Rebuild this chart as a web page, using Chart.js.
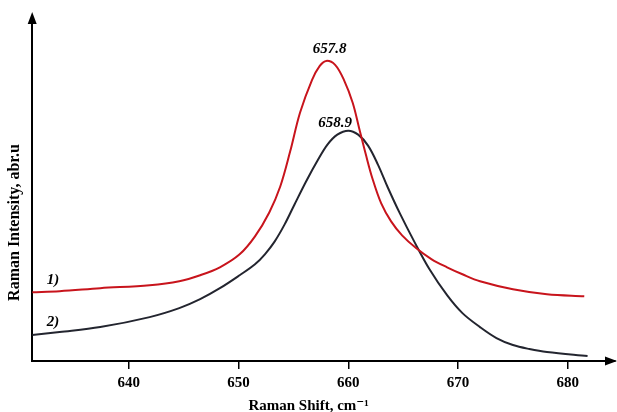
<!DOCTYPE html>
<html>
<head>
<meta charset="utf-8">
<script src="https://cdn.jsdelivr.net/npm/chart.js@4"></script>
<style>
  html, body { margin: 0; padding: 0; background: #fff; }
  #wrap { width: 617px; height: 412px; }
</style>
</head>
<body>
<div id="wrap"><canvas id="chart"></canvas></div>
<script>
// Raman shift (cm-1) and intensity (arb. units)
const shift1 = [631.2, 633.7, 637.4, 641.9, 644.6, 646.5, 648.3, 650.1, 651.5, 652.8, 653.8, 654.7, 655.6, 656.7, 657.4, 658.0, 658.8, 659.6, 660.4, 661.0, 661.6, 662.2, 663.0, 663.9, 664.9, 666.2, 667.6, 669.0, 670.4, 672.0, 675.0, 678.1, 681.5];
const intensity1 = [0.69, 0.70, 0.73, 0.76, 0.80, 0.86, 0.94, 1.07, 1.25, 1.49, 1.75, 2.10, 2.49, 2.82, 2.96, 3.01, 2.97, 2.82, 2.59, 2.33, 2.07, 1.83, 1.58, 1.40, 1.26, 1.13, 1.02, 0.94, 0.87, 0.80, 0.72, 0.67, 0.65];

const shift2 = [631.2, 633.7, 637.4, 641.9, 644.6, 646.5, 648.3, 650.1, 651.5, 652.4, 653.3, 654.2, 655.1, 656.2, 657.2, 658.1, 659.0, 660.0, 660.9, 661.8, 662.7, 663.6, 664.7, 666.0, 667.4, 669.0, 670.4, 672.0, 673.5, 675.0, 676.5, 678.1, 681.8];
const intensity2 = [0.26, 0.29, 0.34, 0.44, 0.53, 0.62, 0.73, 0.86, 0.97, 1.07, 1.20, 1.37, 1.57, 1.81, 2.01, 2.17, 2.27, 2.31, 2.27, 2.16, 1.97, 1.74, 1.48, 1.20, 0.92, 0.66, 0.48, 0.34, 0.23, 0.16, 0.12, 0.09, 0.05];

const xTicks = [640, 650, 660, 670, 680];
const peakLabels = ["657.8", "658.9"];
const peakPos = [[658.3, 3.13], [658.8, 2.39]];
const curveLabels = ["1)", "2)"];
const curvePos = [[633.1, 0.81], [633.1, 0.39]];

const serif = "'Liberation Serif', 'DejaVu Serif', serif";

const extras = {
  id: "extras",
  afterDraw(chart) {
    const { ctx, chartArea: a, scales: { x, y } } = chart;
    ctx.save();
    ctx.fillStyle = "#000";
    // arrow heads on both axes
    ctx.beginPath();
    ctx.moveTo(a.left, a.top - 8);
    ctx.lineTo(a.left - 4.5, a.top + 4);
    ctx.lineTo(a.left + 4.5, a.top + 4);
    ctx.closePath();
    ctx.fill();
    ctx.beginPath();
    ctx.moveTo(a.right + 2, a.bottom);
    ctx.lineTo(a.right - 10, a.bottom - 4.5);
    ctx.lineTo(a.right - 10, a.bottom + 4.5);
    ctx.closePath();
    ctx.fill();
    // text annotations
    ctx.textAlign = "center";
    ctx.textBaseline = "middle";
    ctx.font = "italic bold 15px " + serif;
    peakLabels.forEach((t, i) => {
      ctx.fillText(t, x.getPixelForValue(peakPos[i][0]), y.getPixelForValue(peakPos[i][1]));
    });
    curveLabels.forEach((t, i) => {
      ctx.fillText(t, x.getPixelForValue(curvePos[i][0]), y.getPixelForValue(curvePos[i][1]));
    });
    ctx.restore();
  }
};

const sp = "\u2002";

new Chart(document.getElementById("chart"), {
  type: "line",
  data: {
    datasets: [
      {
        label: "1)",
        data: shift1.map((v, i) => ({ x: v, y: intensity1[i] })),
        borderColor: "#c8141c",
        borderWidth: 2,
        pointRadius: 0,
        tension: 0.35,
        fill: false
      },
      {
        label: "2)",
        data: shift2.map((v, i) => ({ x: v, y: intensity2[i] })),
        borderColor: "#23252f",
        borderWidth: 2,
        pointRadius: 0,
        tension: 0.35,
        fill: false
      }
    ]
  },
  options: {
    responsive: true,
    maintainAspectRatio: false,
    animation: false,
    layout: { padding: { left: 5, right: 2, top: 20, bottom: -3 } },
    plugins: { legend: { display: false }, tooltip: { enabled: false } },
    scales: {
      x: {
        type: "linear",
        min: 631.2,
        max: 684.3,
        afterBuildTicks: (s) => { s.ticks = xTicks.map(v => ({ value: v })); },
        ticks: { color: "#000", font: { family: serif, size: 15, weight: "bold" }, padding: 5 },
        grid: { drawOnChartArea: false, drawTicks: true, tickLength: 8, color: "#000", lineWidth: 1.5 },
        border: { display: true, color: "#000", width: 2 },
        title: { display: true, text: "Raman Shift, cm\u207B\u00B9" + sp.repeat(4), color: "#000", font: { family: serif, size: 15, weight: "bold" }, padding: { top: 0, bottom: 0 } }
      },
      y: {
        min: 0,
        max: 3.42,
        ticks: { display: false },
        grid: { display: false, drawTicks: false },
        border: { display: true, color: "#000", width: 2 },
        title: { display: true, text: "Raman Intensity, abr.u" + sp.repeat(8), color: "#000", font: { family: serif, size: 16, weight: "bold" }, padding: { top: 0, bottom: 8 } }
      }
    }
  },
  plugins: [extras]
});
</script>
</body>
</html>
